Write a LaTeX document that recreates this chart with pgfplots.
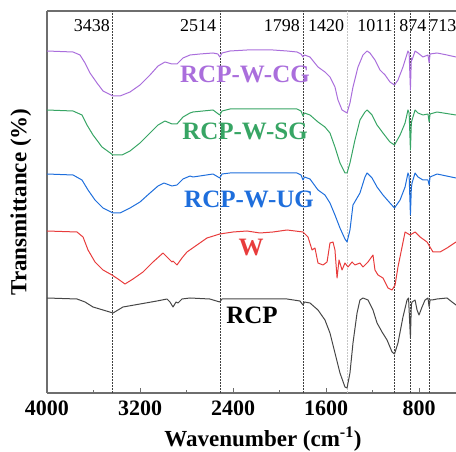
\documentclass[border=0pt]{standalone}
\usepackage{fontspec}
\setmainfont{Liberation Serif}
\usepackage{pgfplots}
\pgfplotsset{compat=1.18}

\definecolor{cgcol}{RGB}{170,110,220}
\definecolor{sgcol}{RGB}{55,165,100}
\definecolor{ugcol}{RGB}{30,110,220}
\definecolor{wcol}{RGB}{232,60,60}
\definecolor{rcpcol}{RGB}{70,70,70}
\definecolor{framecol}{RGB}{110,110,110}

\newcommand{\peakfont}{\fontsize{18}{20}\selectfont}
\newcommand{\serfont}{\fontsize{25}{28}\selectfont\bfseries}

\begin{document}
\begin{tikzpicture}
\useasboundingbox (-47pt,-59pt) rectangle (409pt,393pt);
\begin{axis}[
  at={(0,0)}, anchor=south west,
  scale only axis, width=409pt, height=382pt,
  xmin=482, xmax=4000, ymin=0, ymax=382,
  x dir=reverse,
  separate axis lines,
  axis x line*=box, axis y line*=left,
  axis line style={framecol, line width=1.1pt},
  xtick={800,1600,2400,3200,4000},
  minor x tick num=1,
  xtick pos=bottom,
  tick align=inside,
  major tick length=5pt, minor tick length=3pt,
  tick style={framecol, line width=0.8pt},
  ytick=\empty,
  /pgf/number format/assume math mode=true,
  /pgf/number format/1000 sep={},
  xticklabel style={font=\fontsize{22}{24}\selectfont\bfseries, yshift=-4pt},
  xlabel={Wavenumber (cm\textsuperscript{-1})},
  ylabel={Transmittance (\%)},
  xlabel style={font=\fontsize{23}{26}\selectfont\bfseries, at={(axis description cs:0.528,0)}, anchor=center, yshift=-46pt},
  ylabel style={font=\fontsize{23}{26}\selectfont\bfseries, at={(axis description cs:-0.064,0.5)}, anchor=center},
  clip=false,
  line join=round,
]
% reference lines
\foreach \w in {3438,2514,1798,1011,874,713}{
  \edef\tmp{\noexpand\draw[black!75, line width=0.5pt, densely dotted] (axis cs:\w,0) -- (axis cs:\w,382);}
  \tmp
}
\draw[gray!45, line width=0.5pt, densely dotted] (axis cs:1420,0) -- (axis cs:1420,382);

% RCP-W-CG
\addplot[cgcol, line width=1pt] coordinates {
(4000,342) (3776,341) (3716,338) (3673,330) (3630,320) (3570,310) (3518,302)
(3432,297) (3372,297) (3286,301) (3200,308) (3114,318) (3045,327) (2985,331)
(2925,329) (2882,329) (2830,335) (2770,338) (2684,339) (2572,340) (2530,339)
(2514,336) (2495,340) (2426,342) (2280,343) (2056,343) (1935,342) (1850,341)
(1815,339) (1798,336) (1785,338) (1738,336) (1669,326) (1609,321) (1566,316)
(1523,306) (1497,293) (1462,283) (1419,280) (1394,290) (1368,306) (1325,326)
(1282,338) (1247,342) (1222,340) (1179,333) (1136,323) (1092,318) (1050,311)
(1011,308) (981,313) (938,326) (895,342) (885,340) (874,303) (866,335)
(860,333) (834,342) (809,340) (766,336) (723,338) (713,330) (705,339)
(645,340) (559,338) (482,336)
};
% RCP-W-SG
\addplot[sgcol, line width=1pt] coordinates {
(4000,283) (3776,282) (3699,278) (3656,268) (3604,258) (3527,246) (3432,238)
(3355,238) (3286,242) (3200,250) (3114,260) (3045,268) (2985,272) (2925,269)
(2882,269) (2830,276) (2770,280) (2744,281) (2572,283) (2514,278) (2495,282)
(2426,284) (1850,284) (1815,282) (1798,277) (1785,280) (1738,278) (1669,271)
(1609,266) (1566,260) (1523,246) (1480,230) (1437,220) (1419,220) (1394,230)
(1351,253) (1308,273) (1265,281) (1247,283) (1204,278) (1161,268) (1110,260)
(1050,251) (1011,248) (963,258) (920,270) (895,283) (885,280) (874,243)
(866,270) (860,273) (834,283) (809,280) (766,278) (723,279) (713,271)
(705,279) (645,281) (482,278)
};
% RCP-W-UG
\addplot[ugcol, line width=1pt] coordinates {
(4000,219) (3776,218) (3699,213) (3647,203) (3587,193) (3518,185) (3432,180)
(3372,180) (3286,185) (3200,191) (3114,200) (3045,207) (2994,210) (2925,207)
(2882,208) (2830,214) (2770,217) (2744,216) (2572,219) (2514,215) (2495,219)
(2426,220) (1850,220) (1815,218) (1798,213) (1785,216) (1738,214) (1669,203)
(1609,198) (1566,190) (1523,178) (1480,165) (1437,154) (1419,151) (1394,163)
(1368,188) (1308,200) (1265,216) (1247,220) (1204,215) (1161,206) (1110,198)
(1050,190) (1011,185) (963,193) (920,206) (895,220) (885,217) (874,178)
(866,205) (860,210) (834,220) (809,216) (766,213) (723,213) (713,208)
(705,216) (645,219) (482,215)
};
% W
\addplot[wcol, line width=1pt] coordinates {
(4000,162) (3742,161) (3690,156) (3647,143) (3587,131) (3518,123) (3441,118)
(3389,114) (3329,109) (3260,114) (3174,121) (3088,131) (3002,140) (2959,135)
(2925,131) (2916,132) (2882,128) (2839,135) (2796,141) (2710,148) (2624,155)
(2514,159) (2400,161) (2280,162) (2168,160) (2056,161) (1935,163) (1798,161)
(1755,156) (1720,143) (1695,145) (1669,130) (1626,128) (1591,131) (1566,150)
(1540,151) (1523,143) (1505,115) (1488,133) (1462,123) (1437,130) (1411,126)
(1376,131) (1351,128) (1308,130) (1282,126) (1239,131) (1196,138) (1179,123)
(1153,118) (1110,115) (1067,105) (1032,103) (1006,108) (981,126) (946,146)
(920,161) (877,158) (834,161) (791,156) (731,151) (680,141) (619,141)
(559,145) (482,151)
};
% RCP
\addplot[rcpcol, line width=1pt] coordinates {
(4000,95) (3742,94) (3673,91) (3604,86) (3518,83) (3432,80) (3346,86)
(3200,89) (3054,92) (2968,94) (2942,91) (2916,86) (2890,91) (2873,90)
(2839,94) (2770,95) (2600,94) (2514,91) (2495,94) (2400,94) (1935,94)
(1824,92) (1798,88) (1785,91) (1738,90) (1669,83) (1609,73) (1566,60)
(1523,40) (1480,20) (1437,6) (1419,5) (1394,20) (1368,50) (1333,80)
(1308,93) (1282,95) (1239,93) (1196,83) (1161,70) (1118,61) (1075,53)
(1032,41) (1011,39) (981,50) (938,76) (903,93) (890,95) (874,55)
(866,88) (860,91) (834,93) (817,83) (800,78) (774,86) (748,93)
(723,95) (713,86) (705,93) (688,93) (645,94) (559,95) (516,91) (482,88)
};

% peak labels
\node[font=\peakfont] at (axis cs:3615,367) {3438};
\node[font=\peakfont] at (axis cs:2701,367) {2514};
\node[font=\peakfont] at (axis cs:1979,367) {1798};
\node[font=\peakfont] at (axis cs:1600,367) {1420};
\node[font=\peakfont] at (axis cs:1178,367) {1011};
\node[font=\peakfont] at (axis cs:852,367) {874};
\node[font=\peakfont, anchor=west, inner sep=0pt] at (axis cs:713,367) {713};

% series labels
\node[font=\serfont, text=cgcol] at (axis cs:2297,319) {RCP-W-CG};
\node[font=\serfont, text=sgcol] at (axis cs:2297,262) {RCP-W-SG};
\node[font=\serfont, text=ugcol] at (axis cs:2262,194) {RCP-W-UG};
\node[font=\serfont, text=wcol] at (axis cs:2245,145) {W};
\node[font=\serfont, text=black] at (axis cs:2237,78) {RCP};
\end{axis}
\end{tikzpicture}
\end{document}
